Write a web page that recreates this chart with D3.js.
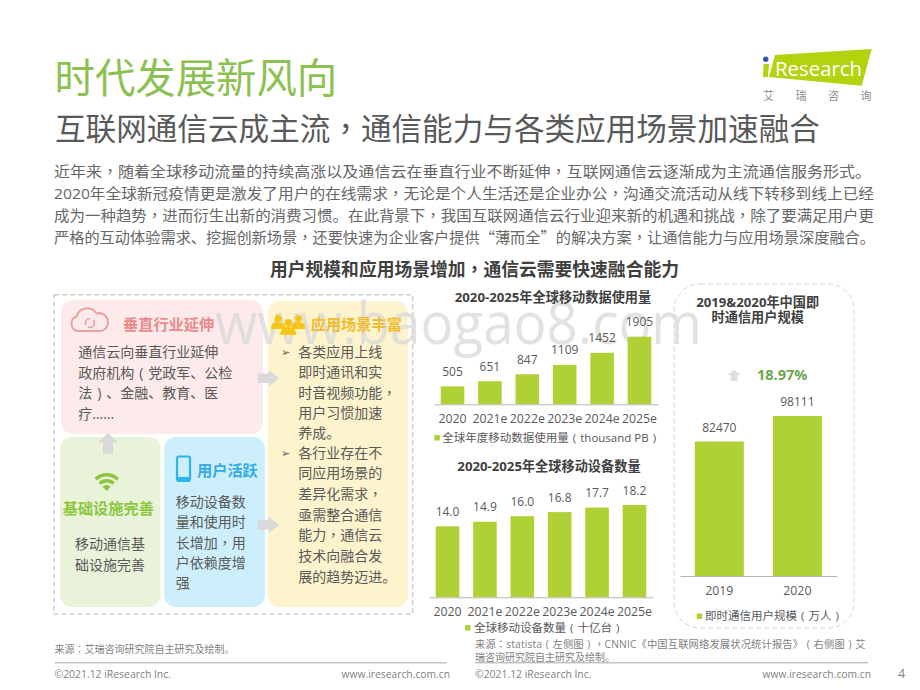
<!DOCTYPE html>
<html><head><meta charset="utf-8">
<script src="https://cdn.jsdelivr.net/npm/d3@7/dist/d3.min.js"></script>
<style>
html,body{margin:0;padding:0;background:#fff}
svg{display:block}
text{font-family:"Open Sans","Noto Sans CJK SC",sans-serif;fill:#595959}
.axis path{stroke:#b5b5b5;stroke-width:1}
.axis text{font-size:12.3px;fill:#595959;font-family:"Open Sans","Noto Sans CJK SC",sans-serif}
</style></head><body>
<svg id="c" width="920" height="690" viewBox="0 0 920 690"></svg>
<script>
const mobileDataYears=["2020","2021e","2022e","2023e","2024e","2025e"];
const mobileDataValues=[505,651,847,1109,1452,1905];
const deviceYears=["2020","2021e","2022e","2023e","2024e","2025e"];
const deviceValues=[14.0,14.9,16.0,16.8,17.7,18.2];
const imYears=["2019","2020"];
const imValues=[82470,98111];
const bodyLines=[
"近年来，随着全球移动流量的持续高涨以及通信云在垂直行业不断延伸，互联网通信云逐渐成为主流通信服务形式。",
"2020年全球新冠疫情更是激发了用户的在线需求，无论是个人生活还是企业办公，沟通交流活动从线下转移到线上已经",
"成为一种趋势，进而衍生出新的消费习惯。在此背景下，我国互联网通信云行业迎来新的机遇和挑战，除了要满足用户更",
"严格的互动体验需求、挖掘创新场景，还要快速为企业客户提供“薄而全”的解决方案，让通信能力与应用场景深度融合。"];
const verticalLines=["通信云向垂直行业延伸","政府机构（党政军、公检","法）、金融、教育、医","疗……"];
const sceneLines=["各类应用上线","即时通讯和实","时音视频功能，","用户习惯加速","养成。","各行业存在不","同应用场景的","差异化需求，","亟需整合通信","能力，通信云","技术向融合发","展的趋势迈进。"];
const infraLines=["移动通信基","础设施完善"];
const activeLines=["移动设备数","量和使用时","长增加，用","户依赖度增","强"];

const svg=d3.select("#c");
const G="#afd136";
function T(x,y,s,size,o={}){
  const t=svg.append("text").attr("x",x).attr("y",y).style("font-size",size+"px")
    .style("fill",o.fill||"#595959").style("font-weight",o.bold?"700":"400").attr("text-anchor",o.anchor||"start");
  if(o.spacing)t.style("letter-spacing",o.spacing+"px");
  let pending=null;
  s.split(/([，：（）“”])/).filter(p=>p!=="").forEach(p=>{
    const span=t.append("tspan");
    if(pending){span.attr("dx",pending);pending=null;}
    if(p==="（"||p==="）"){
      span.attr("dx",".35em").text(p==="（"?"(":")").style("font-family","Open Sans");
      pending=".35em";
    } else if(p==="，"||p==="："){
      span.text(p).style("font-family","Noto Sans CJK TC");
    } else if(p==="“"||p==="”"){
      span.text(p).style("font-family","Noto Sans CJK SC");
    } else span.text(p);
  });
  if(o.len){t.attr("textLength",o.len).attr("lengthAdjust","spacingAndGlyphs");}
  return t;
}
function lines(arr,x,ys,size,o={}){
  arr.forEach((s,i)=>T(x,ys[i],s,size,o));
}
// header
T(54.5,93,"时代发展新风向",40.4,{fill:"#8cc152"});
T(55,140,"互联网通信云成主流，通信能力与各类应用场景加速融合",30.6,{fill:"#595959"});
const bodyY=[176.5,198.5,220.5,242.5];
bodyLines.forEach((s,i)=>T(54,bodyY[i],s,15.2,{fill:"#666",len:[817,820,820,821][i]}));
T(474.5,276,"用户规模和应用场景增加，通信云需要快速融合能力",17.8,{bold:true,anchor:"middle",fill:"#404040"});

// logo
svg.append("polygon").attr("points","775,55 871.7,49 861.7,85.7 769,77").attr("fill","#b5d20e");
svg.append("polygon").attr("points","763.5,64 769,64 768,77 763,77").attr("fill","#b5d20e");
svg.append("circle").attr("cx",765.7).attr("cy",59.3).attr("r",2.7).attr("fill","#3a56a8");
T(775,75.5,"Research",20.3,{fill:"#fff",len:87});
["艾","瑞","咨","询"].forEach((c,i)=>T(768.5+i*32.5,100,c,11,{anchor:"middle",fill:"#8c8c8c"}));

// left panel
svg.append("rect").attr("x",54).attr("y",294.7).attr("width",358.7).attr("height",319.3)
  .attr("fill","none").attr("stroke","#cfcfcf").attr("stroke-width",1.5).attr("stroke-dasharray","5 3");
const boxes=[[61,300,202,134,"#fdeaea"],[60,437,100.7,170,"#e9f3d9"],[164,437,101,170,"#cdeffb"],[267.7,301,140.3,306,"#fdf3cd"]];
boxes.forEach(b=>svg.append("rect").attr("x",b[0]).attr("y",b[1]).attr("width",b[2]).attr("height",b[3]).attr("rx",12).attr("fill",b[4]));

// watermark
T(215,344,"www.baogao8.com",58,{fill:"#d9d9d9",len:487}).style("opacity",.75);

// grey arrows
function rightArrow(x,y){svg.append("path").attr("d",`M${x} ${y+3.5}h11v-3.5l10.5 8.3l-10.5 8.3v-3.5h-11z`).attr("fill","#d9d9d9");}
rightArrow(257.7,370);rightArrow(257.7,516.7);
function upArrow(cx,y,w,h,f){svg.append("path").attr("d",`M${cx} ${y}l${w/2} ${h*.45}h${-w*.25}v${h*.55}h${-w/2}v${-h*.55}h${-w*.25}z`).attr("fill",f);}
upArrow(108,433,20,21,"#d9d9d9");
upArrow(734,370,14,11,"#dedede");

// cloud icon
svg.append("path").attr("d","M79 331a7.5 7.5 0 0 1-1.5-14.5a11 11 0 0 1 20-3a8 8 0 0 1 5 17.5z").attr("transform","translate(-1,0)")
  .attr("fill","none").attr("stroke","#e8a3a0").attr("stroke-width",2);
svg.append("circle").attr("cx",90).attr("cy",323).attr("r",4.5).attr("fill","none").attr("stroke","#e8a3a0").attr("stroke-width",1.6).attr("stroke-dasharray","9 3");
T(123,329.5,"垂直行业延伸",15.2,{bold:true,fill:"#e98b8b"});
lines(verticalLines,78.3,[356.7,377.5,398.3,418.5],14);

// people icon
[[278,318.5,3.5],[298.5,318.5,3.5],[288.3,323,4]].forEach(p=>{
  svg.append("circle").attr("cx",p[0]).attr("cy",p[1]).attr("r",p[2]).attr("fill","#f5c518");
  svg.append("path").attr("d",`M${p[0]-p[2]*2} ${p[1]+p[2]*3}q0 ${-p[2]*2.2} ${p[2]*2} ${-p[2]*2}q${p[2]*2} 0 ${p[2]*2} ${p[2]*2}z`).attr("fill","#f5c518");
});
T(310.7,329.5,"应用场景丰富",15.2,{bold:true,fill:"#f0bc2e"});
const sceneY=[356.7,377.3,398.3,418.3,438.3,458.3,478.3,499.3,520,540,560.7,581.7];
lines(sceneLines,298.3,sceneY,14);
[356.7,458.3].forEach(y=>T(281,y-1,"➢",11,{fill:"#595959"}).style("font-family","DejaVu Sans"));

// wifi icon
[[14.5,18],[8.5,12]].forEach(a=>{
  svg.append("path").attr("d",d3.arc().innerRadius(a[0]).outerRadius(a[1]).startAngle(-.75).endAngle(.75)()).attr("transform","translate(106.7,491)").attr("fill","#8cc63f");
});
svg.append("path").attr("d",d3.arc().innerRadius(0).outerRadius(6).startAngle(-.75).endAngle(.75)()).attr("transform","translate(106.7,491)").attr("fill","#8cc63f");
T(108.3,514,"基础设施完善",15.2,{bold:true,fill:"#8cc63f",anchor:"middle"});
infraLines.forEach((s,i)=>T(110,[549.3,569.5][i],s,14,{anchor:"middle"}));

// phone icon
svg.append("rect").attr("x",177).attr("y",456.5).attr("width",13).attr("height",24.5).attr("rx",2).attr("fill","none").attr("stroke","#2db3f0").attr("stroke-width",2.2);
svg.append("rect").attr("x",177).attr("y",477).attr("width",13).attr("height",4).attr("fill","#2db3f0");
T(197,476,"用户活跃",15.2,{bold:true,fill:"#36a9e8"});
lines(activeLines,175.7,[506.7,527,547.7,568.3,588.3],14);

// right dashed panel
svg.append("rect").attr("x",674).attr("y",284).attr("width",180).attr("height",344).attr("rx",26)
  .attr("fill","none").attr("stroke","#d5d5d5").attr("stroke-width",1).attr("stroke-dasharray","5 3");

// bar charts
function bars(cats,vals,x0,x1,base,top,pi,po,fmt,tickY,labelGap){
  const x=d3.scaleBand().domain(cats).range([x0,x1]).paddingInner(pi).paddingOuter(po);
  const y=d3.scaleLinear().domain([0,d3.max(vals)]).range([base,top]);
  const g=svg.append("g");
  g.selectAll("rect").data(vals).join("rect")
    .attr("x",(d,i)=>x(cats[i])).attr("width",x.bandwidth())
    .attr("y",d=>y(d)).attr("height",d=>base-y(d)).attr("fill",G);
  g.selectAll("text.v").data(vals).join("text").attr("class","v")
    .attr("x",(d,i)=>x(cats[i])+x.bandwidth()/2).attr("y",d=>y(d)-labelGap)
    .attr("text-anchor","middle").style("font-size","12px").text(fmt);
  svg.append("g").attr("class","axis").attr("transform",`translate(0,${base})`)
    .call(d3.axisBottom(x).tickSize(0).tickSizeOuter(0).tickPadding(tickY));
  return {x,y};
}
bars(mobileDataYears,mobileDataValues,434,658,404.3,336.7,.369,.18,d=>d,10,10.5);
bars(deviceYears,deviceValues,429,653,597.3,505,.369,.18,d=>d.toFixed(1),10,10.5);
bars(imYears,imValues,680,836.7,576,416,.372,.19,d=>d,10,10);

T(553,301.7,"2020-2025年全球移动数据使用量",13.2,{bold:true,anchor:"middle",fill:"#404040"});
T(549,471,"2020-2025年全球移动设备数量",13.2,{bold:true,anchor:"middle",fill:"#404040"});
T(757.7,306.7,"2019&2020年中国即",13.2,{bold:true,anchor:"middle",fill:"#404040"});
T(757.7,322.3,"时通信用户规模",13.2,{bold:true,anchor:"middle",fill:"#404040"});
T(757,380,"18.97%",14.5,{bold:true,fill:"#6aa84f"});

// legends
[[434.3,435,442.3,441.5,"全球年度移动数据使用量（thousand PB）"],[465,625,474,631.5,"全球移动设备数量（十亿台）"],[696.7,613.5,705,620,"即时通信用户规模（万人）"]].forEach(l=>{
  svg.append("rect").attr("x",l[0]).attr("y",l[1]).attr("width",5.5).attr("height",5.5).attr("fill",G);
  T(l[2],l[3],l[4],11.5);
});

// footer
T(54.5,653.3,"来源：艾瑞咨询研究院自主研究及绘制。",10,{fill:"#7f7f7f"});
T(475,648.3,"来源：statista（左侧图），CNNIC《中国互联网络发展状况统计报告》（右侧图）艾",10.3,{fill:"#7f7f7f",spacing:.12});
T(475,660.5,"瑞咨询研究院自主研究及绘制。",10,{fill:"#7f7f7f"});
[[54.5,446.7],[475,867.7]].forEach(l=>svg.append("line").attr("x1",l[0]).attr("x2",l[1]).attr("y1",662.8).attr("y2",662.8).attr("stroke","#a6a6a6").attr("stroke-width",1));
T(54.5,677.7,"©2021.12 iResearch Inc.",10.4,{fill:"#7f7f7f"});
T(475,677.7,"©2021.12 iResearch Inc.",10.4,{fill:"#7f7f7f"});
T(450,677.7,"www.iresearch.com.cn",10.3,{fill:"#7f7f7f",anchor:"end"});
T(871,677.7,"www.iresearch.com.cn",10.3,{fill:"#7f7f7f",anchor:"end"});
T(901.7,678,"4",12.5,{fill:"#7f7f7f",anchor:"middle"});
</script></body></html>
